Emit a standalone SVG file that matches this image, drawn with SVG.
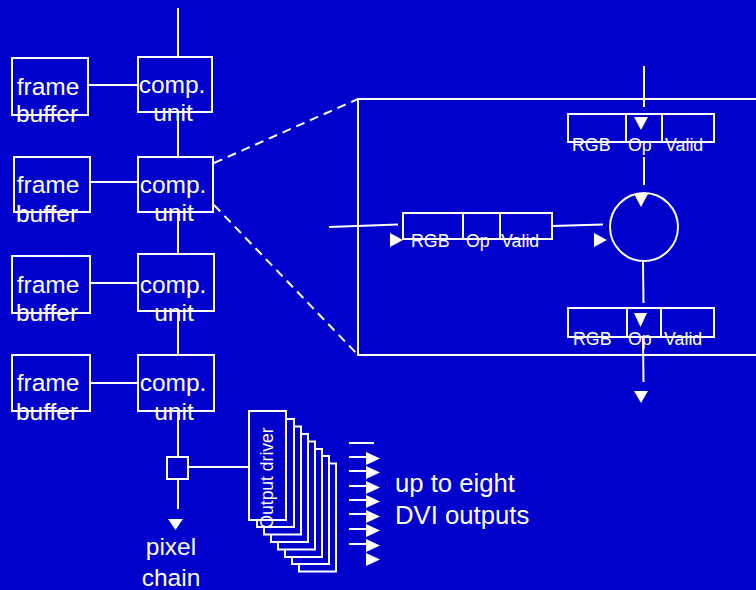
<svg xmlns="http://www.w3.org/2000/svg" width="756" height="590" viewBox="0 0 756 590">
<defs>
<style>
.bx{fill:none;stroke:#fff;stroke-width:2}
.bf{fill:#0000cc;stroke:#fff;stroke-width:2}
.ln{fill:none;stroke:#fff;stroke-width:2}
.dash{fill:none;stroke:#fff;stroke-width:2;stroke-dasharray:9 6}
.t{font-family:"Liberation Sans",Arial,sans-serif;fill:#fff}
.big{font-size:24.5px;text-anchor:middle}
.lab{font-size:25.7px}
.sm{font-size:17.8px}
.tri{fill:#fff}
</style>
</defs>
<rect x="0" y="0" width="756" height="590" fill="#0000cc"/>

<g id="connectors">
<line class="ln" x1="178" y1="8" x2="178" y2="57"/>
<line class="ln" x1="178" y1="112" x2="178" y2="157"/>
<line class="ln" x1="178" y1="212" x2="178" y2="254"/>
<line class="ln" x1="178" y1="311" x2="178" y2="355"/>
<line class="ln" x1="178" y1="411" x2="178" y2="457"/>
<line class="ln" x1="178" y1="479" x2="178" y2="509"/>
<polygon class="tri" points="168,519 183,519 175.5,530"/>
<line class="ln" x1="88" y1="85" x2="138" y2="85"/>
<line class="ln" x1="90" y1="182" x2="138" y2="182"/>
<line class="ln" x1="90" y1="283" x2="138" y2="283"/>
<line class="ln" x1="90" y1="383" x2="138" y2="383"/>
<line class="ln" x1="188" y1="467" x2="250" y2="467"/>
<line class="dash" x1="214" y1="163" x2="358" y2="99"/>
<line class="dash" x1="214" y1="205" x2="358" y2="355"/>
<line class="ln" x1="349" y1="443" x2="374" y2="443"/>
<line class="ln" x1="349" y1="457" x2="372" y2="457"/>
<line class="ln" x1="349" y1="471" x2="372" y2="471"/>
<line class="ln" x1="349" y1="486" x2="372" y2="486"/>
<line class="ln" x1="349" y1="500" x2="372" y2="500"/>
<line class="ln" x1="349" y1="514" x2="372" y2="514"/>
<line class="ln" x1="349" y1="529" x2="372" y2="529"/>
<line class="ln" x1="349" y1="544" x2="372" y2="544"/>
<polygon class="tri" points="366,452 380,458.5 366,465"/>
<polygon class="tri" points="366,466 380,472.5 366,479"/>
<polygon class="tri" points="366,481 380,487.5 366,494"/>
<polygon class="tri" points="366,495 380,501.5 366,508"/>
<polygon class="tri" points="366,510 380,516.5 366,523"/>
<polygon class="tri" points="366,524 380,530.5 366,537"/>
<polygon class="tri" points="366,539 380,545.5 366,552"/>
<polygon class="tri" points="366,553 380,559.5 366,566"/>
</g>

<g id="frame-buffer-1">
<rect class="bx" x="12" y="58" width="76" height="57"/>
<text class="t big" x="48" y="95">frame</text>
<text class="t big" x="47" y="122">buffer</text>
</g>
<g id="frame-buffer-2">
<rect class="bx" x="14" y="157" width="76" height="55"/>
<text class="t big" x="48" y="193">frame</text>
<text class="t big" x="47" y="222">buffer</text>
</g>
<g id="frame-buffer-3">
<rect class="bx" x="12" y="256" width="78" height="57"/>
<text class="t big" x="48" y="293">frame</text>
<text class="t big" x="47" y="321">buffer</text>
</g>
<g id="frame-buffer-4">
<rect class="bx" x="12" y="355" width="78" height="56"/>
<text class="t big" x="48" y="391">frame</text>
<text class="t big" x="47" y="420">buffer</text>
</g>

<g id="comp-unit-1">
<rect class="bx" x="138" y="57" width="74" height="55"/>
<text class="t big" x="172" y="93">comp.</text>
<text class="t big" x="173" y="121">unit</text>
</g>
<g id="comp-unit-2">
<rect class="bx" x="138" y="157" width="75" height="55"/>
<text class="t big" x="173" y="193">comp.</text>
<text class="t big" x="174" y="221">unit</text>
</g>
<g id="comp-unit-3">
<rect class="bx" x="138" y="254" width="76" height="57"/>
<text class="t big" x="173" y="293">comp.</text>
<text class="t big" x="174" y="321">unit</text>
</g>
<g id="comp-unit-4">
<rect class="bx" x="138" y="355" width="76" height="56"/>
<text class="t big" x="173" y="391">comp.</text>
<text class="t big" x="174" y="420">unit</text>
</g>

<g id="switch">
<rect class="bx" x="167" y="457" width="21" height="22"/>
</g>
<g id="pixel-chain-label">
<text class="t big" x="171" y="555">pixel</text>
<text class="t big" x="171" y="586">chain</text>
</g>

<g id="output-drivers">
<rect class="bf" x="299" y="463.5" width="37" height="108"/>
<rect class="bf" x="292" y="456" width="37" height="108"/>
<rect class="bf" x="285" y="449" width="37" height="108"/>
<rect class="bf" x="278" y="441.5" width="37" height="108"/>
<rect class="bf" x="271" y="434" width="37" height="108"/>
<rect class="bf" x="264" y="426.5" width="37" height="108"/>
<rect class="bf" x="257" y="419" width="37" height="108"/>
<rect class="bf" x="249" y="411" width="37" height="109"/>
<text class="t" font-size="17.5" text-anchor="middle" transform="translate(273,478) rotate(-90)">Output driver</text>
</g>

<g id="dvi-label">
<text class="t lab" x="395" y="492">up to eight</text>
<text class="t lab" x="395" y="524">DVI outputs</text>
</g>

<g id="detail-panel">
<rect class="bx" x="358" y="99" width="420" height="256"/>
</g>

<g id="detail-connectors">
<line class="ln" x1="644" y1="66" x2="644" y2="107"/>
<polygon class="tri" points="634,117 648,117 641,130"/>
<line class="ln" x1="644" y1="157" x2="644" y2="185"/>
<polygon class="tri" points="634,194 648,194 641,207"/>
<line class="ln" x1="329" y1="227" x2="398" y2="224.5"/>
<polygon class="tri" points="390,233 403,240 390,247"/>
<line class="ln" x1="552" y1="226" x2="603" y2="224.5"/>
<polygon class="tri" points="594,233 607,240 594,247"/>
<line class="ln" x1="643" y1="262" x2="643.5" y2="303"/>
<polygon class="tri" points="634,313 647,313 640.5,327"/>
<line class="ln" x1="643" y1="337" x2="643.5" y2="382"/>
<polygon class="tri" points="634,391 648,391 641,403"/>
</g>

<g id="register-top">
<rect class="bx" x="568" y="114" width="146" height="28"/>
<line class="ln" x1="626" y1="114" x2="626" y2="142"/>
<line class="ln" x1="662" y1="114" x2="662" y2="142"/>
<text class="t sm" x="572" y="151">RGB</text>
<text class="t sm" x="628" y="151">Op</text>
<text class="t sm" x="665" y="151">Valid</text>
</g>

<g id="register-left">
<rect class="bx" x="403" y="213" width="149" height="26"/>
<line class="ln" x1="463" y1="213" x2="463" y2="239"/>
<line class="ln" x1="500" y1="213" x2="500" y2="239"/>
<text class="t sm" x="411" y="247">RGB</text>
<text class="t sm" x="466" y="247">Op</text>
<text class="t sm" x="501" y="247">Valid</text>
</g>

<g id="operator">
<circle class="bx" cx="644" cy="227" r="34"/>
</g>

<g id="register-bottom">
<rect class="bx" x="568" y="308" width="146" height="29"/>
<line class="ln" x1="627" y1="308" x2="627" y2="337"/>
<line class="ln" x1="661" y1="308" x2="661" y2="337"/>
<text class="t sm" x="573" y="345">RGB</text>
<text class="t sm" x="628" y="345">Op</text>
<text class="t sm" x="664" y="345">Valid</text>
</g>
</svg>
